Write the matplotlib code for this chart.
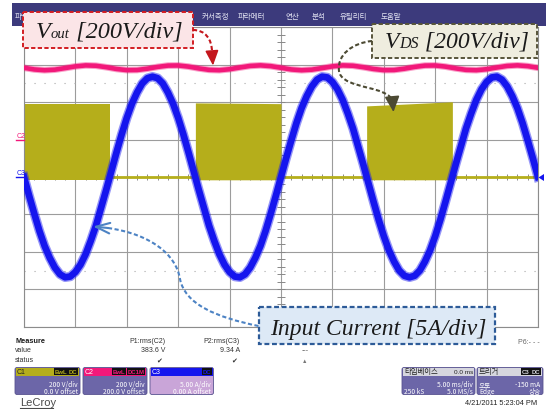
import numpy as np
import matplotlib.pyplot as plt
from matplotlib.patches import (Rectangle, FancyBboxPatch, PathPatch, Polygon,
                                FancyArrowPatch, ArrowStyle)
from matplotlib.path import Path

plt.rcParams['font.family'] = ['Liberation Sans', 'DejaVu Sans']
KR = ['Noto Sans CJK KR', 'DejaVu Sans']
SERIF = 'Liberation Serif'

# scope settings: 5 ms/div, 10 x 8 divisions, trigger at screen centre
C1_SCALE, C1_OFFSET = 200.0, 0.0      # V/div, V  (VDS)
C2_SCALE, C2_OFFSET = 200.0, 200.0    # V/div, V  (Vout)
C3_SCALE, C3_OFFSET = 5.0, 0.0        # A/div, A  (input current)

# input current, one sample every 0.5 ms
t_current = np.linspace(-25, 25, 101)
i_input = [0.0, -2.5, -4.9, -7.2, -9.2, -10.8, -12.1, -13.0, -13.4, -13.3,
           -12.7, -11.7, -10.3, -8.5, -6.5, -4.1, -1.7, 0.8, 3.3, 5.7,
           7.9, 9.8, 11.3, 12.5, 13.2, 13.4, 13.2, 12.5, 11.3, 9.8,
           7.9, 5.7, 3.3, 0.8, -1.7, -4.1, -6.5, -8.5, -10.3, -11.7,
           -12.7, -13.3, -13.4, -13.0, -12.1, -10.8, -9.2, -7.2, -4.9, -2.5,
           0.0, 2.5, 4.9, 7.2, 9.2, 10.8, 12.1, 13.0, 13.4, 13.3,
           12.7, 11.7, 10.3, 8.5, 6.5, 4.1, 1.7, -0.8, -3.3, -5.7,
           -7.9, -9.8, -11.3, -12.5, -13.2, -13.4, -13.2, -12.5, -11.3, -9.8,
           -7.9, -5.7, -3.3, -0.8, 1.7, 4.1, 6.5, 8.5, 10.3, 11.7,
           12.7, 13.3, 13.4, 13.0, 12.1, 10.8, 9.2, 7.2, 4.9, 2.5, 0.0]

# output voltage, one sample every 1 ms
t_vout = np.linspace(-25, 25, 51)
v_out = [383.6, 374.7, 370.6, 373.6, 382.0, 391.2, 396.4, 394.6, 386.8, 377.3,
         371.2, 371.8, 378.8, 388.4, 395.4, 396.0, 389.9, 380.4, 372.6, 370.8,
         376.0, 385.2, 393.6, 396.6, 392.5,
         383.6, 374.7, 370.6, 373.6, 382.0, 391.2, 396.4, 394.6, 386.8, 377.3,
         371.2, 371.8, 378.8, 388.4, 395.4, 396.0, 389.9, 380.4, 372.6, 370.8,
         376.0, 385.2, 393.6, 396.6, 392.5, 383.6]

# switch voltage: switching bursts (ms) and burst envelope (V)
vds_on_start = [-25.0, -8.33, 8.33]
vds_on_stop = [-16.67, 0.0, 16.67]
vds_peak_start = [388.0, 396.0, 380.0]
vds_peak_stop = [388.0, 392.0, 402.0]
vds_floor = -15.0
vds_off = 0.0

menu_items = ["파일", "커서측정", "파라메터", "연산", "분석", "유틸리티", "도움말"]
measure_names = ["P1:rms(C2)", "P2:rms(C3)"]
measure_values = ["383.6 V", "9.34 A"]

YELLOW = '#b5ae1b'
PINK = '#f2187a'
BLUE = '#1515ee'
GRID = '#9c9c9c'

fig = plt.figure(figsize=(5.46, 4.10), dpi=100)
fig.patch.set_facecolor('white')

# ---- scope screen -------------------------------------------------------
ax = fig.add_axes([24 / 546, 1 - 327.7 / 410, 514 / 546, 299.4 / 410])
ax.set_xlim(-25, 25)
ax.set_ylim(-4, 4)
ax.set_xticks(np.arange(-25, 26, 5))
ax.set_yticks(np.arange(-4, 5, 1))
ax.tick_params(length=0, labelbottom=False, labelleft=False)
ax.grid(True, color=GRID, lw=0.8)
ax.set_axisbelow(True)
for sp in ax.spines.values():
    sp.set_color('#8c8c8c')
    sp.set_linewidth(0.8)
# centre graticule ticks and dotted rows
ax.hlines(np.arange(-4, 4.01, 0.2), -0.35, 0.35, color='#888888', lw=0.7, zorder=1)
ax.vlines(np.arange(-25, 25.01, 1.0), -0.07, 0.07, color='#888888', lw=0.7, zorder=1)
for yy in (2.5, -2.5):
    ax.axhline(yy, color='#a8a8a8', lw=0.8, ls=(0, (1, 8)), zorder=1)

# C1: VDS
ax.axhline((vds_off + C1_OFFSET) / C1_SCALE, color=YELLOW, lw=2.0, zorder=2)
for s, e, p0, p1 in zip(vds_on_start, vds_on_stop, vds_peak_start, vds_peak_stop):
    ax.fill_between([s, e], (vds_floor + C1_OFFSET) / C1_SCALE,
                    [(p0 + C1_OFFSET) / C1_SCALE, (p1 + C1_OFFSET) / C1_SCALE],
                    color=YELLOW, lw=0, zorder=2)

# C3: input current
i_div = (np.array(i_input) + C3_OFFSET) / C3_SCALE
ax.plot(t_current, i_div, color=BLUE, lw=6.8, alpha=0.45, zorder=3)
ax.plot(t_current, i_div, color=BLUE, lw=4.8, zorder=3)

# C2: output voltage
v_div = (np.array(v_out) + C2_OFFSET) / C2_SCALE
ax.plot(t_vout, v_div, color=PINK, lw=4.8, alpha=0.4, zorder=4)
ax.plot(t_vout, v_div, color=PINK, lw=3.3, zorder=4)

# ---- overlay in pixel units ----------------------------------------------
ov = fig.add_axes([0, 0, 1, 1])
ov.set_xlim(0, 546)
ov.set_ylim(410, 0)
ov.axis('off')
ov.patch.set_visible(False)
ov.set_zorder(2)
renderer = fig.canvas.get_renderer()


def width_of(t):
    return t.get_window_extent(renderer).width


# menu bar
ov.add_patch(Rectangle((12, 4), 534, 22.7, fc='#3c3a7c', ec='none', zorder=1))
for label, x in zip(menu_items, [15, 202, 237.5, 285.5, 311.5, 339.5, 381]):
    ov.text(x, 16.5, label, family=KR, fontsize=5.4, color='#e2e2f2',
            va='center', ha='left', zorder=2)

# channel ground markers and trigger level
ov.text(16.3, 136.5, "C2", fontsize=5.0, color=PINK, va='center', rotation=0)
ov.plot([16.3, 24], [141, 141], color=PINK, lw=1.0)
ov.text(16.3, 173.5, "C3", fontsize=5.0, color=BLUE, va='center', rotation=0)
ov.plot([16.3, 24], [178, 178], color=BLUE, lw=1.0)
ov.add_patch(Polygon([(538.5, 178.5), (544, 175), (544, 182)], fc=BLUE, ec='none'))


def rich(x, y, parts, color='#1a1a1a'):
    for s, size in parts:
        t = ov.text(x, y, s, family=SERIF, style='italic', fontsize=size,
                    color=color, va='baseline', ha='left', zorder=8)
        x += width_of(t)


def dashed_curve(verts, color, lw, dashes):
    codes = [Path.MOVETO] + [Path.CURVE4] * (len(verts) - 1)
    ov.add_patch(PathPatch(Path(verts, codes), fc='none', ec=color, lw=lw,
                           ls=(0, dashes), zorder=7, capstyle='butt'))


def head(a, b, color, style, hl, hw, lw=1.2):
    ov.add_patch(FancyArrowPatch(a, b, arrowstyle=ArrowStyle(style, head_length=hl, head_width=hw),
                                 color=color, lw=lw, shrinkA=0, shrinkB=0, zorder=7))


# Vout label
ov.add_patch(Rectangle((23, 13), 170, 36, fc='#fbe5e7', ec='#d21d22', lw=1.4,
                       ls=(0, (2.2, 1.2)), zorder=5))
rich(36, 37.5, [("V", 17.5), ("out", 10.5), (" [200V/div]", 17.5)])
dashed_curve([(193, 31), (205, 31), (212, 40), (212, 53)], '#c4161c', 1.5, (2, 1.2))
head((212, 53), (213, 66.5), '#c4161c', '-|>', 9.0, 4.0)

# VDS label
ov.add_patch(Rectangle((372, 25), 165, 34, fc='#efeddf', ec='#57543a', lw=1.4,
                       ls=(0, (2.2, 1.2)), zorder=5))
rich(385, 47.5, [("V", 17), ("DS", 11.5), (" [200V/div]", 17)])
dashed_curve([(372, 42), (352, 44), (337, 56), (339, 72),
              (341, 86), (368, 87), (382, 93),
              (389, 96), (392, 99), (392.5, 102)], '#4c4a33', 1.5, (2, 1.2))
head((392.5, 102), (393.5, 113), '#4c4a33', '-|>', 9.5, 4.5)

# input current label
ov.add_patch(Rectangle((258.5, 307.5), 236, 37, fc='#dde9f6', ec='#2d5b98', lw=1.6,
                       ls=(0, (2.2, 1.2)), zorder=5))
rich(270, 335, [("Input Current [5A/div]", 17)])
dashed_curve([(258.5, 327), (215, 318), (185, 305), (180, 280),
              (176, 255), (150, 235), (108, 229)], '#4d83c4', 1.5, (2, 1.2))
head((108, 229), (93, 227.5), '#4d83c4', '->', 10, 3.8, lw=1.5)

# ---- measurement table ---------------------------------------------------
ov.text(15, 342, "Measure", fontsize=5.3, weight='bold', color='#1a1a1a', va='center')
ov.text(15, 351, "value", fontsize=5.0, color='#333333', va='center')
ov.text(15, 361, "status", fontsize=5.0, color='#333333', va='center')
for name, val, xr in zip(measure_names, measure_values, [165, 240]):
    ov.text(xr, 342, name, fontsize=5.0, color='#333333', va='center', ha='right')
    ov.text(xr, 351, val, fontsize=5.0, color='#333333', va='center', ha='right')
    ov.text(xr - 6, 361, "✔", fontsize=5.0, color='#333333', va='center', ha='center')
ov.text(305, 350.5, "---", fontsize=5.0, color='#555555', va='center', ha='center')
ov.text(305, 361.5, "▲", fontsize=4.0, color='#777777', va='center', ha='center')
ov.text(540, 343, "P6:- - -", fontsize=5.0, color='#666666', va='center', ha='right')


def tags_right(xr, yc, tags, tag_color):
    for tag in reversed(tags):
        t = ov.text(xr, yc, tag, fontsize=4.3, color=tag_color, va='center', ha='right',
                    weight='bold', zorder=6,
                    bbox=dict(boxstyle='square,pad=0.12', fc='#111111', ec='none'))
        xr -= width_of(t) + 2.0


def panel(x0, x1, head_fc, head_txt, head_col, tags, tag_col, body_fc, rows,
          head_right=None, kr_head=False):
    y0, yh, y1 = 368.5, 376.5, 395.5
    ov.add_patch(FancyBboxPatch((x0, y0), x1 - x0, y1 - y0,
                                boxstyle='round,pad=0,rounding_size=2',
                                fc=body_fc, ec='#58538f', lw=0.6, zorder=4))
    ov.add_patch(Rectangle((x0 + 0.6, y0 + 0.6), x1 - x0 - 1.2, yh - y0 - 0.6,
                           fc=head_fc, ec='none', zorder=5))
    ov.text(x0 + 2, (y0 + yh) / 2, head_txt, fontsize=5.0 if not kr_head else 5.3,
            family=KR if kr_head else None, color=head_col, va='center', zorder=6)
    if head_right:
        ov.text(x1 - 2, (y0 + yh) / 2, head_right, fontsize=4.6, color='#222222',
                va='center', ha='right', zorder=6)
    if tags:
        tags_right(x1 - 2.5, (y0 + yh) / 2, tags, tag_col)
    for yy, left, right in rows:
        if left:
            ov.text(x0 + 2, yy, left, fontsize=4.8, family=KR, color='white',
                    va='center', zorder=6)
        if right:
            ov.text(x1 - 2.5, yy, right, fontsize=4.8, family=KR, color='white',
                    va='center', ha='right', zorder=6)


panel(15, 80, YELLOW, "C1", '#222222', ["BwL", "DC"], YELLOW, '#6c66a8',
      [(385, None, "200 V/div"), (392.5, None, "0.0 V offset")])
panel(83, 147, PINK, "C2", '#ffffff', ["BwL", "DC1M"], PINK, '#6c66a8',
      [(385, None, "200 V/div"), (392.5, None, "200.0 V offset")])
panel(150, 213.5, BLUE, "C3", '#ffffff', ["DC"], BLUE, '#c9a5d8',
      [(385, None, "5.00 A/div"), (392.5, None, "0.00 A offset")])
panel(402, 475, '#d6d6de', "타임베이스", '#222222', None, None, '#6c66a8',
      [(385, None, "5.00 ms/div"), (392.5, "250 kS", "5.0 MS/s")],
      head_right="0.0 ms", kr_head=True)
panel(477, 543, '#d6d6de', "트리거", '#222222', ["C3", "DC"], '#d6d6de', '#6c66a8',
      [(385, "오토", "-150 mA"), (392.5, "Edge", "상승")], kr_head=True)

ov.text(20, 403.5, "LeCroy", fontsize=8, color='#4a4a4a', va='center')
ov.plot([20, 53], [409, 409], color='#4a4a4a', lw=0.8)
ov.text(537, 404, "4/21/2011 5:23:04 PM", fontsize=5.3, color='#222222',
        va='center', ha='right')

fig.savefig('out.png', dpi=100)
